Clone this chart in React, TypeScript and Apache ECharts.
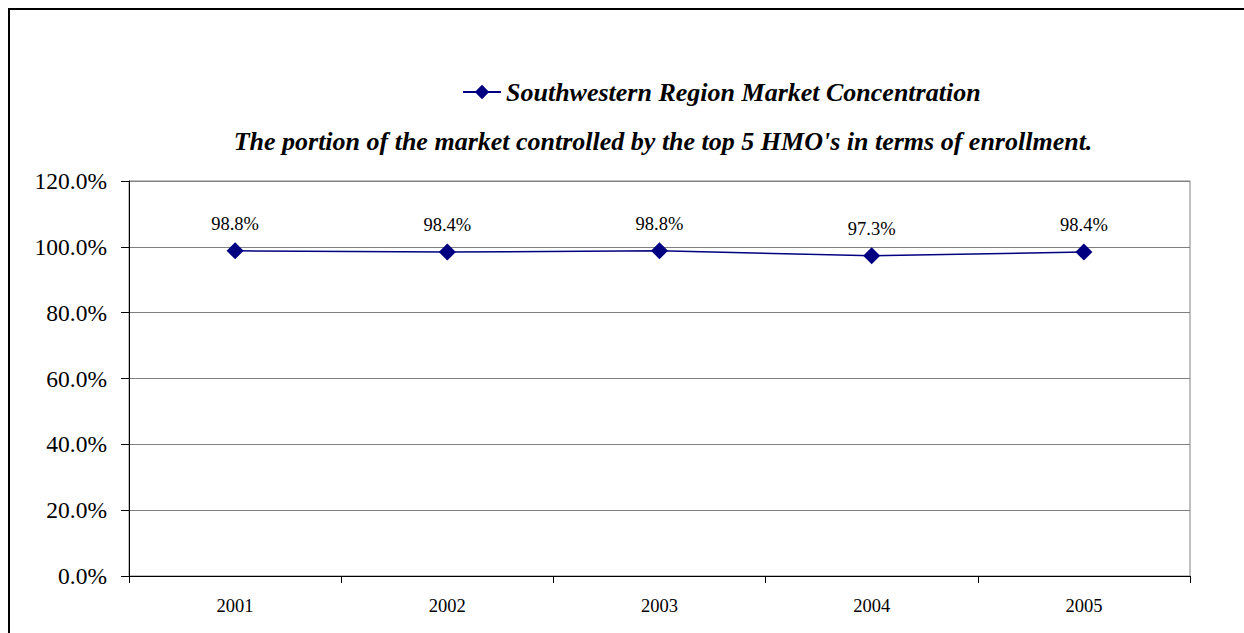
import React, { useEffect, useRef } from "react";
import * as echarts from "echarts";

const categories = ["2001", "2002", "2003", "2004", "2005"];
const values = [0.988, 0.984, 0.988, 0.973, 0.984];
const seriesName = "Southwestern Region Market Concentration";
const titleText = "The portion of the market controlled by the top 5 HMO's in terms of enrollment.";
const yMin = 0;
const yMax = 1.2;
const yInterval = 0.2;

const FONT = "'Liberation Serif', 'Times New Roman', serif";

export default function App() {
  const ref = useRef<HTMLDivElement>(null);
  useEffect(() => {
    if (!ref.current) return;
    const chart = echarts.init(ref.current, null, { renderer: "svg" });
    chart.setOption({
      animation: false,
      backgroundColor: "#ffffff",
      graphic: [
        {
          type: "rect",
          shape: { x: 9, y: 9, width: 1300, height: 700 },
          style: { fill: "none", stroke: "#000", lineWidth: 2 },
          silent: true,
        },
      ],
      title: {
        text: titleText,
        left: 658,
        textAlign: "center",
        top: 123,
        textStyle: {
          fontFamily: FONT,
          fontSize: 26,
          fontStyle: "italic",
          fontWeight: "bold",
          color: "#000",
        },
      },
      legend: {
        left: 457,
        top: 74,
        itemWidth: 38,
        itemHeight: 18,
        itemGap: 6,
        data: [{ name: seriesName }],
        textStyle: {
          fontFamily: FONT,
          fontSize: 26,
          fontStyle: "italic",
          fontWeight: "bold",
          color: "#000",
        },
      },
      grid: {
        left: 129,
        top: 181,
        right: 54,
        bottom: 57,
        show: true,
        borderColor: "#808080",
        borderWidth: 1,
        backgroundColor: "transparent",
      },
      xAxis: {
        type: "category",
        data: categories,
        boundaryGap: true,
        axisLine: { show: true, lineStyle: { color: "#000", width: 1 } },
        axisTick: { show: true, length: 7, inside: false, lineStyle: { color: "#000" } },
        axisLabel: { fontFamily: FONT, fontSize: 18.5, color: "#000", margin: 20 },
        splitLine: { show: false },
      },
      yAxis: {
        type: "value",
        min: yMin,
        max: yMax,
        interval: yInterval,
        axisLine: { show: true, lineStyle: { color: "#000", width: 1 } },
        axisTick: { show: true, length: 8, inside: false, lineStyle: { color: "#000" } },
        axisLabel: {
          fontFamily: FONT,
          fontSize: 23.5,
          color: "#000",
          margin: 22,
          formatter: (v: number) => (v * 100).toFixed(1) + "%",
        },
        splitLine: { show: true, lineStyle: { color: "#808080", width: 1 } },
      },
      series: [
        {
          name: seriesName,
          type: "line",
          data: values,
          symbol: "diamond",
          symbolSize: 17,
          itemStyle: { color: "#000080" },
          lineStyle: { color: "#000080", width: 1.5 },
          label: {
            show: true,
            position: "top",
            distance: 9,
            fontFamily: FONT,
            fontSize: 18.5,
            color: "#000",
            formatter: (p: any) => (p.value * 100).toFixed(1) + "%",
          },
        },
      ],
    });
    return () => chart.dispose();
  }, []);
  return (
    <div
      ref={ref}
      style={{ position: "fixed", left: 0, top: 0, width: 1244, height: 633 }}
    />
  );
}
